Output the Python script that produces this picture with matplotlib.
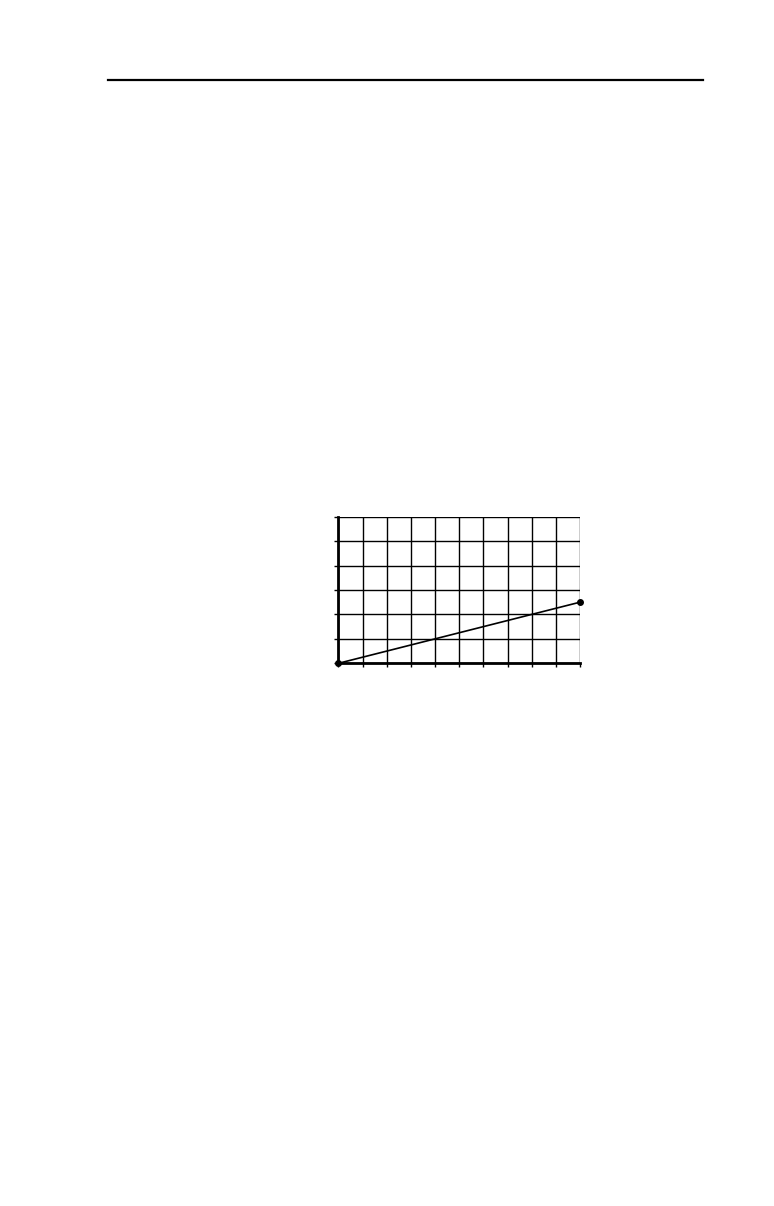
import numpy as np
import matplotlib.pyplot as plt
from matplotlib.lines import Line2D

# datos de la recta
xx = [0, 10]
yy = [0, 2.5]
x_ticks = np.arange(0, 11)
y_ticks = np.arange(0, 7)

fig = plt.figure(figsize=(7.74, 12.06), dpi=100)

# linea de encabezado
fig.add_artist(Line2D([0.1399, 0.9079], [0.9337, 0.9337], color='black', lw=1.6))

ax = fig.add_axes([0.4373, 0.45, 0.312, 0.1216])
ax.plot(xx, yy, color='black', lw=1.2, marker='o', ms=4)
ax.set_xlim(0, 10)
ax.set_ylim(0, 6)
ax.set_xticks(x_ticks)
ax.set_yticks(y_ticks)
ax.set_xticklabels([])
ax.set_yticklabels([])
ax.grid(True, color='black', lw=1)
ax.tick_params(direction='out', length=3, width=1, color='black')
ax.spines['left'].set_linewidth(2)
ax.spines['bottom'].set_linewidth(2)
ax.spines['top'].set_visible(False)
ax.spines['right'].set_visible(False)
for ln in ax.lines:
    ln.set_clip_on(False)

fig.savefig('out.png', dpi=100)
